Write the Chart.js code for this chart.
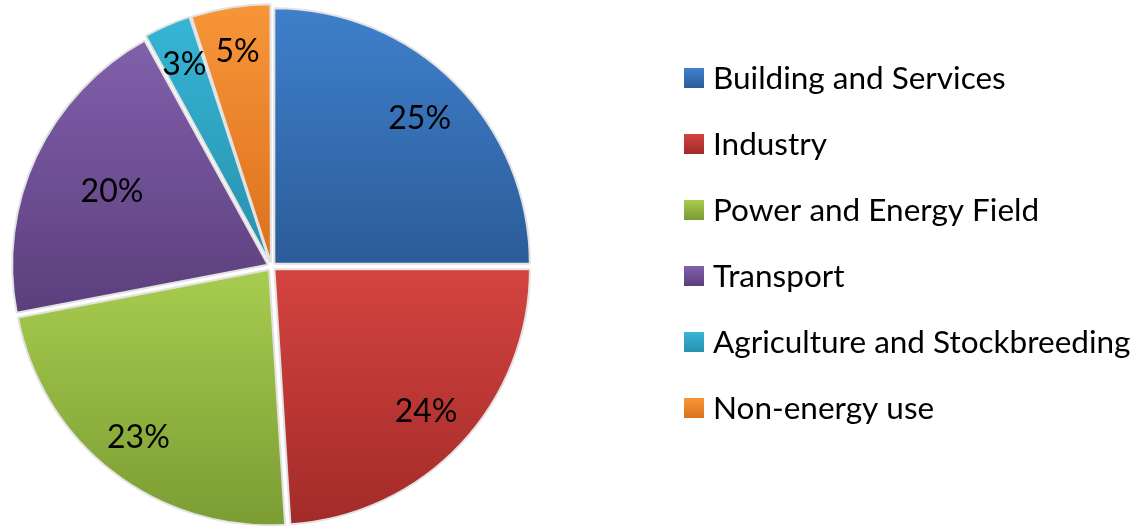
<!DOCTYPE html>
<html>
<head>
<meta charset="utf-8">
<script src="https://cdn.jsdelivr.net/npm/chart.js@4"></script>
<style>
    html, body { margin: 0; padding: 0; background: #fff; }
    #wrap { width: 1146px; height: 531px; }
</style>
</head>
<body>
<div id="wrap"><canvas id="pieChart" width="1146" height="531"></canvas></div>
<script>
// Data
const sectors = ['Building and Services', 'Industry', 'Power and Energy Field', 'Transport', 'Agriculture and Stockbreeding', 'Non-energy use'];
const shares = [25, 24, 23, 20, 3, 5];

// Colours (light top -> dark bottom, Excel-like gradient)
const lightColors = ['#3f81cd', '#d4433f', '#a8cc4f', '#8161ad', '#37b6d6', '#f99639'];
const darkColors = ['#2c5c99', '#a02a28', '#7a9b32', '#5b3e7c', '#2790ad', '#db711e'];
// where the percentage sits, as a fraction of the radius
const labelRadius = [0.82, 0.83, 0.85, 0.69, 0.86, 0.85];

const FONT = 'Lato, "Liberation Sans", sans-serif';

// vertical extent of a slice, so each slice gets its own gradient
function sliceYRange(cy, r, a0, a1) {
    const ys = [cy, cy + r * Math.sin(a0), cy + r * Math.sin(a1)];
    for (let k = -2; k <= 4; k++) {
        const a = k * Math.PI / 2;
        if (a > a0 && a < a1) ys.push(cy + r * Math.sin(a));
    }
    return [Math.min(...ys), Math.max(...ys)];
}

function sliceFill(context) {
    const chart = context.chart;
    const area = chart.chartArea;
    const i = context.dataIndex;
    if (!area) return lightColors[i];
    const total = shares.reduce((a, b) => a + b, 0);
    let start = -Math.PI / 2;
    for (let k = 0; k < i; k++) start += shares[k] / total * Math.PI * 2;
    const end = start + shares[i] / total * Math.PI * 2;
    const cy = (area.top + area.bottom) / 2;
    const r = Math.min(area.width, area.height) / 2;
    const [y0, y1] = sliceYRange(cy, r, start, end);
    const g = chart.ctx.createLinearGradient(0, y0, 0, y1);
    g.addColorStop(0, lightColors[i]);
    g.addColorStop(1, darkColors[i]);
    return g;
}

// percentage labels on the slices
const sliceLabels = {
    id: 'sliceLabels',
    afterDatasetsDraw(chart) {
        const ctx = chart.ctx;
        const meta = chart.getDatasetMeta(0);
        ctx.save();
        ctx.font = '32px ' + FONT;
        ctx.fillStyle = '#000';
        ctx.textAlign = 'center';
        ctx.textBaseline = 'middle';
        meta.data.forEach((arc, i) => {
            const p = arc.getProps(['x', 'y', 'startAngle', 'endAngle', 'outerRadius']);
            const mid = (p.startAngle + p.endAngle) / 2;
            const rr = p.outerRadius * labelRadius[i];
            ctx.fillText(shares[i] + '%', p.x + Math.cos(mid) * rr, p.y + Math.sin(mid) * rr);
        });
        ctx.restore();
    }
};

// legend drawn on the right, one row per sector
const sideLegend = {
    id: 'sideLegend',
    afterDraw(chart) {
        const ctx = chart.ctx;
        const x = 684, y0 = 78, step = 66, box = 20;
        ctx.save();
        ctx.font = '31.5px ' + FONT;
        ctx.textBaseline = 'middle';
        ctx.textAlign = 'left';
        sectors.forEach((name, i) => {
            const y = y0 + i * step;
            const g = ctx.createLinearGradient(0, y - box / 2, 0, y + box / 2);
            g.addColorStop(0, lightColors[i]);
            g.addColorStop(1, darkColors[i]);
            ctx.fillStyle = g;
            ctx.fillRect(x, y - box / 2, box, box);
            ctx.fillStyle = '#000';
            ctx.fillText(name, x + 29, y + 1);
        });
        ctx.restore();
    }
};

const ctx = document.getElementById('pieChart').getContext('2d');

const myChart = new Chart(ctx, {
    type: 'pie',
    data: {
        labels: sectors,
        datasets: [{
            data: shares,
            backgroundColor: sliceFill,
            borderColor: '#e2e2e2',
            borderWidth: 2,
            offset: 16
        }]
    },
    options: {
        responsive: false,
        animation: false,
        layout: {
            padding: { left: 6, right: 609, top: 2, bottom: 0 }
        },
        plugins: {
            legend: { display: false },
            tooltip: { enabled: false }
        }
    },
    plugins: [sliceLabels, sideLegend]
});
</script>
</body>
</html>
